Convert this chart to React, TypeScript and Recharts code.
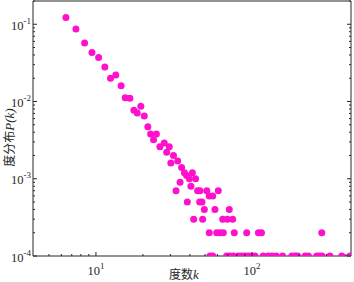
import { ScatterChart, Scatter, XAxis, YAxis, Label } from "recharts";

// degree k of each point and its probability P(k)
const degrees = [
  6.42, 7.44, 8.46, 9.43, 10.4, 11.4, 12.4, 13.4, 14.5, 15.4, 16.5, 17.5, 18.4,
  19.4, 20.4, 21.5, 22.4, 23.4, 24.4, 25.7, 27.4, 28.4, 29.5, 30.2, 31.4, 32.6,
  33.4, 34.6, 35.4, 36.9, 38.1, 38.5, 39.7, 40.6, 41.5, 42.3, 43.5, 44.8, 46.4,
  46.2, 47.8, 48.3, 49.5, 51.3, 53.2, 53.2, 53.8, 56, 56, 57.9, 59.4, 60.8, 62.4,
  64.9, 65.5, 68.8, 69.5, 71.5, 72.2, 75.2, 75.9, 77, 81.7, 85.9, 90.2, 92.5,
  94.7, 99.5, 104.5, 110, 115, 118, 127, 134, 143, 157, 180, 189, 196, 219, 230,
  260, 270, 280, 281, 316, 376, 425,
];

const probabilities = [
  0.122, 0.087, 0.057, 0.043, 0.037, 0.028, 0.02, 0.022, 0.016, 0.0112, 0.011,
  0.0077, 0.0071, 0.0087, 0.0065, 0.0047, 0.0038, 0.0032, 0.0038, 0.0026, 0.0029,
  0.0022, 0.0026, 0.0016, 0.002, 0.0007, 0.0017, 0.0009, 0.0014, 0.0012, 0.0011,
  0.0005, 0.001, 0.0008, 0.0012, 0.0003, 0.001, 0.0007, 0.0007, 0.0005, 0.0005,
  0.0003, 0.0004, 0.0007, 0.0006, 0.0002, 0.0001, 0.0006, 0.0001, 0.0004, 0.0002,
  0.0007, 0.0002, 0.0003, 0.0002, 0.0001, 0.0003, 0.0004, 0.0001, 0.0003, 0.0001,
  0.0002, 0.0001, 0.0001, 0.0001, 0.0002, 0.0001, 0.0001, 0.0001, 0.0002, 0.0002,
  0.0001, 0.0001, 0.0001, 0.0001, 0.0001, 0.0001, 0.0001, 0.0001, 0.0001, 0.0001,
  0.0001, 0.0001, 0.0002, 0.0001, 0.0001, 0.0001, 0.0001,
];

const xTicks = [
  5, 6, 7, 8, 9, 10, 20, 30, 40, 50, 60, 70, 80, 90, 100, 200, 300, 400,
];

const yTicks = [
  0.0001, 0.0002, 0.0003, 0.0004, 0.0005, 0.0006, 0.0007, 0.0008, 0.0009,
  0.001, 0.002, 0.003, 0.004, 0.005, 0.006, 0.007, 0.008, 0.009,
  0.01, 0.02, 0.03, 0.04, 0.05, 0.06, 0.07, 0.08, 0.09,
  0.1, 0.2,
];

const data = degrees.map((k, i) => ({ k, p: probabilities[i] }));

const MAGENTA = "#ff10cc";
const AXIS = "#262626";
const SERIF = '"Liberation Serif", "Times New Roman", serif';
const CJK = '"Noto Sans CJK SC", sans-serif';

function exponent(v: number) {
  return Math.round(Math.log10(v));
}

function isDecade(v: number) {
  const l = Math.log10(v);
  return Math.abs(l - Math.round(l)) < 1e-6;
}

function XTick(props: any) {
  const { x, y, payload, side } = props;
  const major = isDecade(payload.value);
  const len = major ? 4 : 2;
  const dir = side === "top" ? 1 : -1;
  return (
    <g>
      <line x1={x} y1={y} x2={x} y2={y + dir * len} stroke={AXIS} />
      {side === "bottom" && major && (
        <text
          x={x}
          y={y + 19}
          textAnchor="middle"
          fontFamily={SERIF}
          fontSize={12.5}
          fill="#262626"
        >
          10
          <tspan dy={-6} fontSize={9}>
            {exponent(payload.value)}
          </tspan>
        </text>
      )}
    </g>
  );
}

function YTick(props: any) {
  const { x, y, payload, side } = props;
  const major = isDecade(payload.value);
  const len = major ? 4 : 2;
  const dir = side === "left" ? 1 : -1;
  return (
    <g>
      <line x1={x} y1={y} x2={x + dir * len} y2={y} stroke={AXIS} />
      {side === "left" && major && (
        <text
          x={x - 2}
          y={y + 5.5}
          textAnchor="end"
          fontFamily={SERIF}
          fontSize={12.5}
          fill="#262626"
        >
          10
          <tspan dy={-6} fontSize={9}>
            {exponent(payload.value)}
          </tspan>
        </text>
      )}
    </g>
  );
}

function XTitle(props: any) {
  const vb = props.viewBox;
  return (
    <text
      x={vb.x + vb.width / 2 - 8}
      y={vb.y + 23}
      textAnchor="middle"
      fontSize={12}
      fill="#262626"
      fontFamily={CJK}
    >
      度数
      <tspan fontFamily={SERIF} fontStyle="italic" fontSize={13}>
        k
      </tspan>
    </text>
  );
}

function YTitle(props: any) {
  const vb = props.viewBox;
  const cx = 14;
  const cy = vb.y + vb.height / 2 + 9;
  return (
    <text
      x={cx}
      y={cy}
      transform={`rotate(-90, ${cx}, ${cy})`}
      textAnchor="middle"
      fontSize={12}
      fill="#262626"
      fontFamily={CJK}
    >
      度分布
      <tspan fontFamily={SERIF} fontStyle="italic" fontSize={13}>
        P(k)
      </tspan>
    </text>
  );
}

export default function App() {
  return (
    <div style={{ position: "absolute", left: 0, top: 0, background: "#fff" }}>
      <ScatterChart
        width={354}
        height={282}
        margin={{ top: 0, right: 2, bottom: 0, left: 0 }}
      >
        <XAxis
          dataKey="k"
          type="number"
          scale="log"
          domain={[3.95, 431]}
          allowDataOverflow
          ticks={xTicks}
          interval={0}
          height={26}
          tickSize={0}
          tickMargin={0}
          tickLine={false}
          axisLine={{ stroke: AXIS }}
          tick={(p: any) => <XTick {...p} side="bottom" />}
        >
          <Label content={XTitle} />
        </XAxis>
        <XAxis
          xAxisId="top"
          orientation="top"
          type="number"
          scale="log"
          domain={[3.95, 431]}
          allowDataOverflow
          ticks={xTicks}
          interval={0}
          height={1}
          tickSize={0}
          tickMargin={0}
          tickLine={false}
          axisLine={{ stroke: AXIS }}
          tick={(p: any) => <XTick {...p} side="top" />}
        />
        <YAxis
          dataKey="p"
          type="number"
          scale="log"
          domain={[0.0001, 0.2]}
          allowDataOverflow
          ticks={yTicks}
          interval={0}
          width={33}
          tickSize={0}
          tickMargin={0}
          tickLine={false}
          axisLine={{ stroke: AXIS }}
          tick={(p: any) => <YTick {...p} side="left" />}
        >
          <Label content={YTitle} />
        </YAxis>
        <YAxis
          yAxisId="right"
          orientation="right"
          type="number"
          scale="log"
          domain={[0.0001, 0.2]}
          allowDataOverflow
          ticks={yTicks}
          interval={0}
          width={1}
          tickSize={0}
          tickMargin={0}
          tickLine={false}
          axisLine={{ stroke: AXIS }}
          tick={(p: any) => <YTick {...p} side="right" />}
        />
        <Scatter
          data={data}
          fill={MAGENTA}
          isAnimationActive={false}
          shape={(p: any) => (
            <circle cx={p.cx} cy={p.cy} r={3.5} fill={MAGENTA} />
          )}
        />
      </ScatterChart>
    </div>
  );
}
